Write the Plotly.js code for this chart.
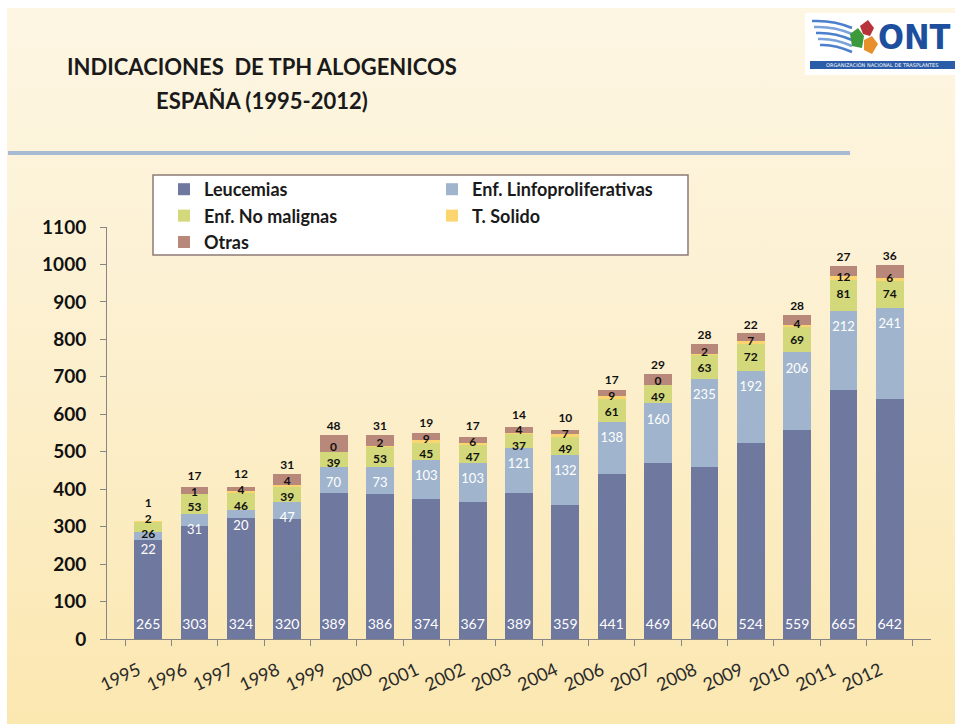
<!DOCTYPE html>
<html><head><meta charset="utf-8">
<script src="https://cdn.plot.ly/plotly-3.0.1.min.js"></script>
<style>
html,body{margin:0;padding:0;background:#fff;}
#wrap{position:relative;width:955px;height:724px;overflow:hidden;background:#fff;}
#bg{position:absolute;left:7px;top:8px;width:948px;height:716px;background:linear-gradient(to bottom,#fdf6e3 0%,#fcf0d0 45%,#fbe7b0 100%);}
#chart{position:absolute;left:0;top:0;width:955px;height:724px;}
</style></head><body>
<div id="wrap"><div id="bg"></div><div id="chart"></div></div>
<script>
// ---- data ----
const years = ['1995','1996','1997','1998','1999','2000','2001','2002','2003','2004','2006','2007','2008','2009','2010','2011','2012'];
const leucemias  = [265,303,324,320,389,386,374,367,389,359,441,469,460,524,559,665,642];
const linfo      = [22,31,20,47,70,73,103,103,121,132,138,160,235,192,206,212,241];
const noMalignas = [26,53,46,39,39,53,45,47,37,49,61,49,63,72,69,81,74];
const tSolido    = [2,1,4,4,0,2,9,6,4,7,9,0,2,7,4,12,6];
const otras      = [1,17,12,31,48,31,19,17,14,10,17,29,28,22,28,27,36];
const seriesNames = ['Leucemias','Enf. Linfoproliferativas','Enf. No malignas','T. Solido','Otras'];
const yTicks = [0,100,200,300,400,500,600,700,800,900,1000,1100];

// ---- styles ----
const colors = ['#6f789f','#a0b5cd','#d3d97a','#fcd570','#b8887a'];
const FONT = 'Lato, "Open Sans", sans-serif';
const L = 107, R = 931, T = 227, B = 639;
const px2x = p => (p - L) / (R - L);
const py2y = p => (B - p) / (B - T);

const series = [leucemias, linfo, noMalignas, tSolido, otras];
const legendOf = ['legend','legend2','legend','legend2','legend'];
const traces = series.map((vals, k) => ({
  type: 'bar', x: years, y: vals, name: seriesNames[k],
  marker: {color: colors[k], line: {width: 0}},
  legend: legendOf[k], legendgroup: 'g' + k,
  hoverinfo: 'skip'
}));

// label positions (data units) computed from the stacked values
const GAP = 42;
function place(desired) {
  let clusters = [];
  desired.forEach((d, i) => {
    clusters.push({idx: [i], sum: d});
    while (clusters.length > 1) {
      const b = clusters[clusters.length - 1], a = clusters[clusters.length - 2];
      const ca = a.sum / a.idx.length, cb = b.sum / b.idx.length;
      const aTop = ca + (a.idx.length - 1) * GAP / 2, bBot = cb - (b.idx.length - 1) * GAP / 2;
      if (bBot - aTop < GAP) {
        clusters.pop(); clusters.pop();
        clusters.push({idx: a.idx.concat(b.idx), sum: a.sum + b.sum});
      } else break;
    }
  });
  const out = [];
  clusters.forEach(c => {
    const m = c.sum / c.idx.length, n = c.idx.length;
    c.idx.forEach((i, k) => { out[i] = m - (n - 1) * GAP / 2 + k * GAP; });
  });
  return out;
}
const labY = [[], [], [], [], []];
years.forEach((yr, i) => {
  const t1 = leucemias[i], t2 = t1 + linfo[i], t3 = t2 + noMalignas[i], t4 = t3 + tSolido[i], t5 = t4 + otras[i];
  const p = place([t2 - 45, (t2 + t3) / 2, (t3 + t4) / 2, t5 + 20]);
  labY[0].push(35); labY[1].push(p[0]); labY[2].push(p[1]); labY[3].push(p[2]); labY[4].push(p[3]);
});
const labSize = [14, 13, 12, 12, 12];
series.forEach((vals, k) => {
  traces.push({
    type: 'scatter', mode: 'text', x: years, y: labY[k], text: vals.map(String),
    textposition: 'middle center', cliponaxis: false, showlegend: false, hoverinfo: 'skip',
    textfont: {family: FONT, size: labSize[k], color: k < 2 ? '#ffffff' : '#111111', weight: k < 2 ? 'normal' : 'bold'}
  });
});

// ---- decorations (rule, legend frame, logo) ----
const shapes = [
  {type: 'line', xref: 'paper', yref: 'paper', x0: px2x(8), x1: px2x(850), y0: py2y(153), y1: py2y(153), line: {color: '#a6bbd3', width: 4}},
  {type: 'rect', xref: 'paper', yref: 'paper', x0: px2x(153), x1: px2x(688), y0: py2y(255), y1: py2y(175), fillcolor: '#ffffff', line: {color: '#8c7b75', width: 1.5}, layer: 'above'},
  {type: 'rect', xref: 'paper', yref: 'paper', x0: px2x(805), x1: px2x(960), y0: py2y(75), y1: py2y(13), fillcolor: '#ffffff', line: {width: 0}},
  {type: 'rect', xref: 'paper', yref: 'paper', x0: px2x(810), x1: px2x(960), y0: py2y(69), y1: py2y(61), fillcolor: '#2b5ca8', line: {width: 0}}
];
for (let k = 0; k < 5; k++) {
  const y0 = 21 + k * 6;
  shapes.push({type: 'path', xref: 'paper', yref: 'paper',
    path: 'M' + px2x(812 + k * 2) + ',' + py2y(y0) + ' Q' + px2x(834) + ',' + py2y(y0 - 1) + ' ' + px2x(852) + ',' + py2y(y0 + 7),
    line: {color: k % 2 ? '#7aa3dc' : '#4c7fcc', width: 2.5}});
}
shapes.push({type: 'path', xref: 'paper', yref: 'paper',
  path: 'M' + px2x(850) + ',' + py2y(34) + ' L' + px2x(858) + ',' + py2y(28) + ' L' + px2x(864) + ',' + py2y(36) + ' L' + px2x(862) + ',' + py2y(48) + ' L' + px2x(852) + ',' + py2y(46) + ' Z',
  fillcolor: '#3d9a3a', line: {width: 0}});
shapes.push({type: 'path', xref: 'paper', yref: 'paper',
  path: 'M' + px2x(860) + ',' + py2y(26) + ' L' + px2x(868) + ',' + py2y(20) + ' L' + px2x(874) + ',' + py2y(28) + ' L' + px2x(870) + ',' + py2y(36) + ' L' + px2x(863) + ',' + py2y(34) + ' Z',
  fillcolor: '#b8323a', line: {width: 0}});
shapes.push({type: 'path', xref: 'paper', yref: 'paper',
  path: 'M' + px2x(864) + ',' + py2y(40) + ' L' + px2x(872) + ',' + py2y(36) + ' L' + px2x(878) + ',' + py2y(44) + ' L' + px2x(872) + ',' + py2y(54) + ' L' + px2x(864) + ',' + py2y(50) + ' Z',
  fillcolor: '#e8902e', line: {width: 0}});

const annotations = [
  {xref: 'paper', yref: 'paper', x: px2x(262), y: py2y(100), text: 'ESPAÑA (1995-2012)', showarrow: false,
   xanchor: 'center', yanchor: 'middle', font: {family: FONT, size: 22, color: '#1a1a1a', weight: 'bold'}},
  {xref: 'paper', yref: 'paper', x: px2x(953), y: py2y(37), text: 'ONT', showarrow: false,
   xanchor: 'right', yanchor: 'middle', font: {family: '"Liberation Sans Narrow", "DejaVu Sans Condensed", "Liberation Sans", sans-serif', size: 34, color: '#1d4f9e', weight: 'bold'}},
  {xref: 'paper', yref: 'paper', x: px2x(882), y: py2y(65.5), text: 'ORGANIZACIÓN NACIONAL DE TRASPLANTES', showarrow: false,
   xanchor: 'center', yanchor: 'middle', font: {family: 'DejaVu Sans', size: 5, color: '#ffffff'}}
];

const legendFont = {family: FONT, size: 18, color: '#1a1a1a', weight: 'bold'};
const layout = {
  width: 955, height: 724,
  paper_bgcolor: 'rgba(0,0,0,0)', plot_bgcolor: 'rgba(0,0,0,0)',
  margin: {l: L, r: 955 - R, t: T, b: 724 - B, pad: 0},
  font: {family: FONT, color: '#1a1a1a'},
  title: {text: 'INDICACIONES\u00a0 DE TPH ALOGENICOS', xref: 'container', yref: 'container',
          x: 262 / 955, xanchor: 'center', y: 1 - 67 / 724, yanchor: 'middle',
          font: {family: FONT, size: 22, color: '#1a1a1a', weight: 'bold'}},
  barmode: 'stack', bargap: 0.4,
  showlegend: true,
  legend: {x: px2x(164), y: py2y(171), xanchor: 'left', yanchor: 'top', bgcolor: 'rgba(0,0,0,0)', borderwidth: 0,
           font: legendFont, traceorder: 'grouped', tracegroupgap: 0, itemclick: false},
  legend2: {x: px2x(432), y: py2y(171), xanchor: 'left', yanchor: 'top', bgcolor: 'rgba(0,0,0,0)', borderwidth: 0,
           font: legendFont, traceorder: 'grouped', tracegroupgap: 0, itemclick: false},
  xaxis: {type: 'category', categoryorder: 'array', categoryarray: years, showgrid: false, zeroline: false,
          showline: true, linecolor: '#868686', linewidth: 1, ticks: 'outside', tickson: 'boundaries', ticklen: 6, tickcolor: '#868686',
          tickangle: -25, ticklabelshift: -10, ticklabelstandoff: 13, tickfont: {family: FONT, size: 18, color: '#2a2a2a'}, fixedrange: true},
  yaxis: {range: [0, 1100], tickvals: yTicks, ticktext: yTicks.map(String), showgrid: false, zeroline: false,
          showline: true, linecolor: '#868686', linewidth: 1, ticks: 'outside', ticklen: 6, tickcolor: '#868686',
          ticklabelstandoff: 10, tickfont: {family: FONT, size: 19, color: '#111111', weight: 'bold'}, fixedrange: true},
  shapes: shapes,
  annotations: annotations
};
Plotly.newPlot('chart', traces, layout, {displayModeBar: false, staticPlot: true});
</script>
</body></html>
